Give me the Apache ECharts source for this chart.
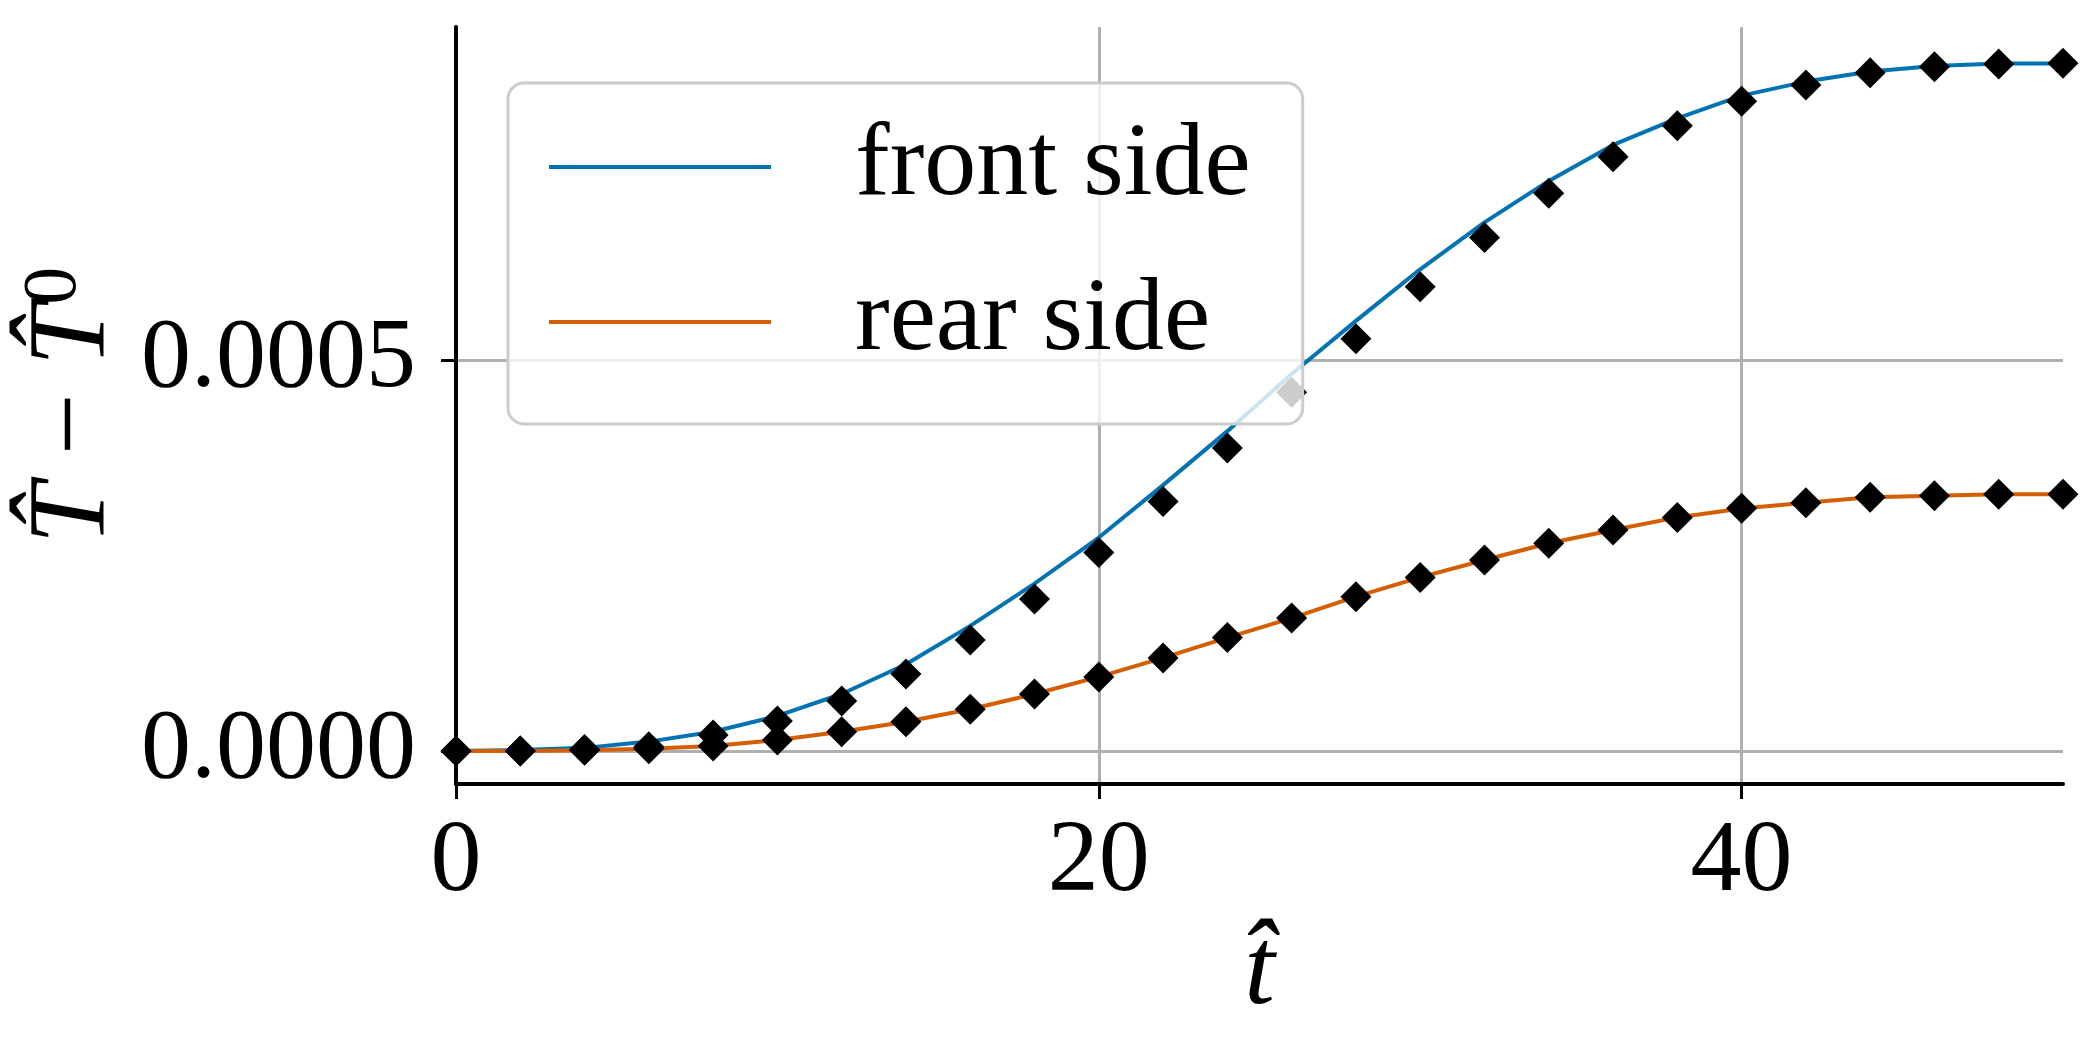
<!DOCTYPE html>
<html>
<head>
<meta charset="utf-8">
<script src="https://cdn.jsdelivr.net/npm/echarts@6.0.0/dist/echarts.min.js"></script>
<style>
  html, body { margin: 0; padding: 0; background: #fff; }
  #main { width: 2091px; height: 1053px; }
</style>
</head>
<body>
<div id="main"></div>
<script>
// time samples (every 2 units)
const tHat = [0, 2, 4, 6, 8, 10, 12, 14, 16, 18, 20, 22, 24, 26, 28, 30, 32, 34, 36, 38, 40, 42, 44, 46, 48, 50];

// solid curves
const frontSide = [0, 0.0000013, 0.000004, 0.000012, 0.0000247, 0.0000448, 0.0000729, 0.000111, 0.00016, 0.000214,
  0.000273, 0.00034, 0.000409, 0.000482, 0.00055, 0.000616, 0.000676, 0.000729, 0.000775, 0.000809,
  0.000838, 0.000856, 0.000869, 0.000876, 0.000879, 0.000879];
const rearSide = [0, 0, 0.000001, 0.000003, 0.0000064, 0.0000141, 0.0000247, 0.0000375, 0.0000533, 0.0000729,
  0.0000947, 0.000119, 0.000145, 0.00017, 0.0001974, 0.000222, 0.0002442, 0.0002656, 0.0002826, 0.0002987,
  0.00031, 0.0003175, 0.0003244, 0.0003265, 0.0003282, 0.0003282];

// diamond markers
const frontMarks = [0, 0, 0.000002, 0.0000055, 0.0000205, 0.0000384, 0.000064, 0.0000985, 0.000142, 0.0001944,
  0.0002537, 0.000319, 0.0003876, 0.0004586, 0.000527, 0.0005936, 0.0006566, 0.0007131, 0.00076, 0.0007996,
  0.000831, 0.0008516, 0.0008674, 0.000875, 0.0008785, 0.0008794];
const rearMarks = [0, 0, 0.000001, 0.000003, 0.0000064, 0.0000141, 0.0000247, 0.0000375, 0.0000533, 0.0000729,
  0.0000947, 0.000119, 0.000145, 0.00017, 0.0001974, 0.000222, 0.0002442, 0.0002656, 0.0002826, 0.0002987,
  0.0003103, 0.0003175, 0.0003244, 0.0003265, 0.0003282, 0.0003282];

const xTicks = [0, 20, 40];
const yTicks = [0, 0.0005];

const pairs = (ys) => tHat.map((t, i) => [t, ys[i]]);
const serif = "Liberation Serif";

const chart = echarts.init(document.getElementById("main"), null, { renderer: "canvas" });

const option = {
  backgroundColor: "#fff",
  animation: false,
  grid: { left: 456, right: 28, top: 27, bottom: 269 },
  legend: {
    data: ["front side", "rear side"],
    orient: "vertical",
    left: 508,
    top: 83,
    padding: [32, 52, 50, 41],
    icon: "rect",
    itemWidth: 222,
    itemHeight: 4,
    itemGap: 51,
    backgroundColor: "rgba(255,255,255,0.8)",
    borderColor: "#cccccc",
    borderWidth: 3,
    borderRadius: 16,
    textStyle: {
      fontFamily: serif,
      fontSize: 104,
      lineHeight: 100,
      color: "#000",
      padding: [0, 0, 0, 79],
    },
    z: 10,
  },
  xAxis: {
    type: "value",
    min: 0,
    max: 50,
    name: "t\u0302",
    nameLocation: "middle",
    nameGap: 120,
    nameTextStyle: { fontFamily: serif, fontStyle: "italic", fontSize: 110, color: "#000" },
    axisLine: { onZero: false, lineStyle: { color: "#000", width: 4 } },
    axisTick: { customValues: xTicks, length: 15, lineStyle: { color: "#000", width: 3 } },
    axisLabel: {
      customValues: xTicks,
      margin: 28,
      fontFamily: serif,
      fontSize: 102,
      color: "#000",
    },
    splitLine: { show: true, lineStyle: { color: "#b0b0b0", width: 3 } },
  },
  yAxis: {
    type: "value",
    min: -0.0000422,
    max: 0.0009258,
    name: "{i|T\u0302} \u2212 {i|T\u0302}{s|0}",
    nameLocation: "middle",
    nameGap: 310,
    nameTextStyle: {
      fontFamily: serif,
      fontSize: 110,
      color: "#000",
      rich: {
        i: { fontFamily: serif, fontStyle: "italic", fontSize: 110, color: "#000" },
        s: { fontFamily: serif, fontSize: 76, color: "#000", verticalAlign: "top", padding: [0, 0, 40, 0] },
      },
    },
    axisLine: { lineStyle: { color: "#000", width: 4 } },
    axisTick: { customValues: yTicks, length: 15, lineStyle: { color: "#000", width: 3 } },
    axisLabel: {
      customValues: yTicks,
      margin: 40,
      fontFamily: serif,
      fontSize: 100,
      color: "#000",
      formatter: (v) => v.toFixed(4),
    },
    splitLine: { show: true, lineStyle: { color: "#b0b0b0", width: 3 } },
  },
  series: [
    {
      name: "front side",
      type: "line",
      data: pairs(frontSide),
      symbol: "none",
      showSymbol: false,
      lineStyle: { color: "#0173B2", width: 4 },
      itemStyle: { color: "#0173B2" },
      z: 2,
    },
    {
      name: "rear side",
      type: "line",
      data: pairs(rearSide),
      symbol: "none",
      showSymbol: false,
      lineStyle: { color: "#D55E00", width: 4 },
      itemStyle: { color: "#D55E00" },
      z: 2,
    },
    {
      name: "front ref",
      type: "scatter",
      data: pairs(frontMarks),
      symbol: "diamond",
      symbolSize: 31,
      itemStyle: { color: "#000", opacity: 1 },
      z: 3,
    },
    {
      name: "rear ref",
      type: "scatter",
      data: pairs(rearMarks),
      symbol: "diamond",
      symbolSize: 31,
      itemStyle: { color: "#000", opacity: 1 },
      z: 3,
    },
  ],
};

chart.setOption(option);
</script>
</body>
</html>
